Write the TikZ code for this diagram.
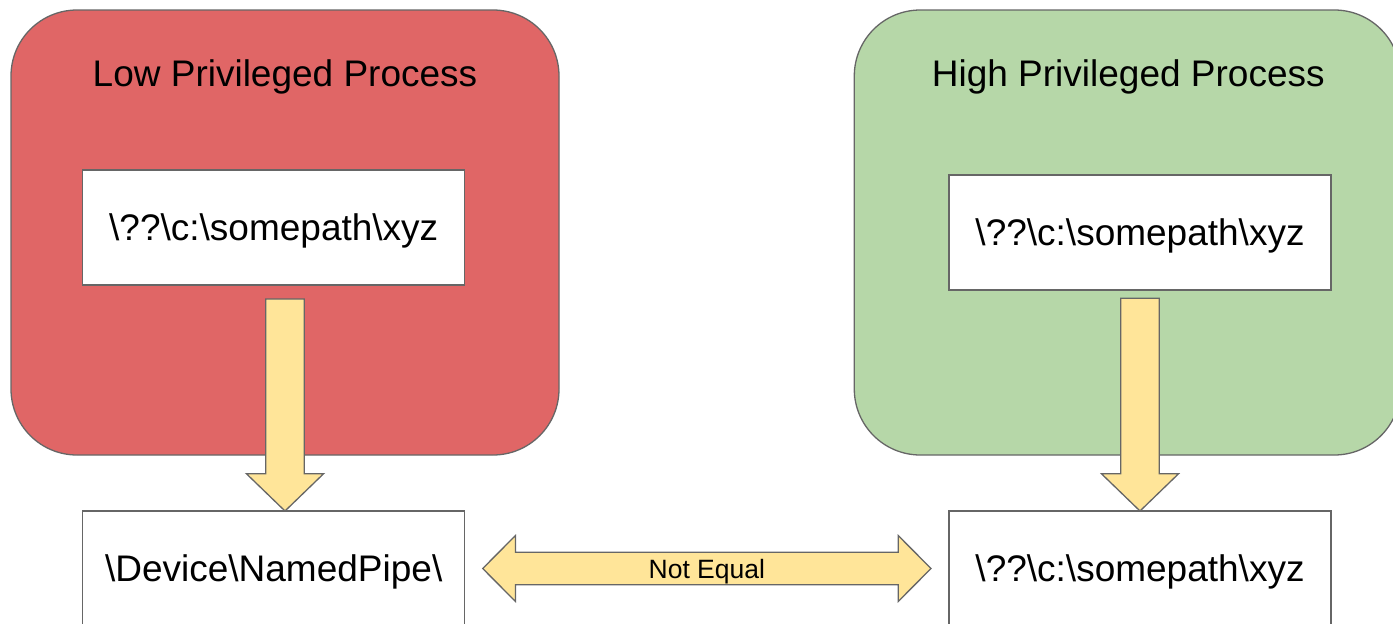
\documentclass[tikz,border=0pt]{standalone}
\usepackage{fontspec}
\setmainfont{Liberation Sans}
\usetikzlibrary{calc}

\definecolor{procred}{HTML}{E06666}
\definecolor{procgreen}{HTML}{B6D7A8}
\definecolor{arrowyellow}{HTML}{FFE599}
\definecolor{edgegray}{HTML}{666666}

\tikzset{
  process/.style={draw=edgegray, line width=1.3pt, rounded corners=66pt,
    inner sep=0pt, outer sep=0pt, minimum width=548pt, minimum height=445pt,
    anchor=north west},
  pathbox/.style={draw=edgegray, fill=white, line width=1.3pt, inner sep=0pt,
    outer sep=0pt, minimum width=382pt, minimum height=115pt, anchor=north west,
    font=\fontsize{37}{44}\selectfont, text height=26.5pt, text depth=0pt},
  proctitle/.style={inner sep=0pt, font=\fontsize{37}{44}\selectfont,
    text height=26.5pt, text depth=0pt},
  blockarrow/.style={draw=edgegray, fill=arrowyellow, line width=1.3pt,
    line join=miter},
  arrowlabel/.style={inner sep=0pt, font=\fontsize{26.5}{32}\selectfont,
    text height=19pt, text depth=0pt},
}

% thick downward block arrow from #1 (top of shaft) to #2 (tip)
\newcommand\downblock[2]{%
  \draw[blockarrow] let \p1=(#1), \p2=(#2) in
    (\x1-19.3pt,\y1) -- (\x1+19.3pt,\y1) -- (\x1+19.3pt,\y2+37.3pt)
    -- (\x1+38.6pt,\y2+37.3pt) -- (\p2) -- (\x1-38.6pt,\y2+37.3pt)
    -- (\x1-19.3pt,\y2+37.3pt) -- cycle;}

\newcommand\bs{\textbackslash}

\begin{document}
\begin{tikzpicture}[x=1pt,y=-1pt]
\useasboundingbox (0,0) rectangle (1393,624);
\clip (0,0) rectangle (1393,624);

% process containers
\node[process, fill=procred] (lowproc) at (11,10) {};
\node[process, fill=procgreen, minimum width=546pt] (highproc) at (854.3,10) {};
\node[proctitle] (lowtitle) at ($(lowproc.north)+(0,63)$) {Low Privileged Process};
\node[proctitle] (hightitle) at ($(highproc.north)+(1,63)$) {High Privileged Process};

% path boxes
\node[pathbox] (lowpath) at (82.7,170) {\bs??\bs c:\bs somepath\bs xyz};
\node[pathbox] (highpath) at (949,175) {\bs??\bs c:\bs somepath\bs xyz};
\node[pathbox] (lowdev) at (82.7,511) {\bs Device\bs NamedPipe\bs};
\node[pathbox] (highdev) at (949,511) {\bs??\bs c:\bs somepath\bs xyz};

% resolution arrows
\coordinate (lowfrom) at ($(lowpath.south)+(11.3,14)$);
\coordinate (lowto) at ($(lowdev.north)+(11.3,0)$);
\coordinate (highfrom) at ($(highpath.south)+(0,8.3)$);
\coordinate (highto) at (highdev.north);
\downblock{lowfrom}{lowto}
\downblock{highfrom}{highto}

% comparison arrow
\coordinate (neL) at ($(lowdev.east)+(18,0)$);
\coordinate (neR) at ($(highdev.west)+(-18,0)$);
\draw[blockarrow] let \p1=(neL), \p2=(neR) in
  (\p1) -- (\x1+32.7pt,\y1+32.9pt) -- (\x1+32.7pt,\y1+16.2pt)
  -- (\x2-32.7pt,\y1+16.2pt) -- (\x2-32.7pt,\y1+32.9pt) -- (\p2)
  -- (\x2-32.7pt,\y1-32.9pt) -- (\x2-32.7pt,\y1-16.2pt)
  -- (\x1+32.7pt,\y1-16.2pt) -- (\x1+32.7pt,\y1-32.9pt) -- cycle;
\node[arrowlabel] (noteq) at ($(neL)!0.5!(neR)$) {Not Equal};
\end{tikzpicture}
\end{document}
